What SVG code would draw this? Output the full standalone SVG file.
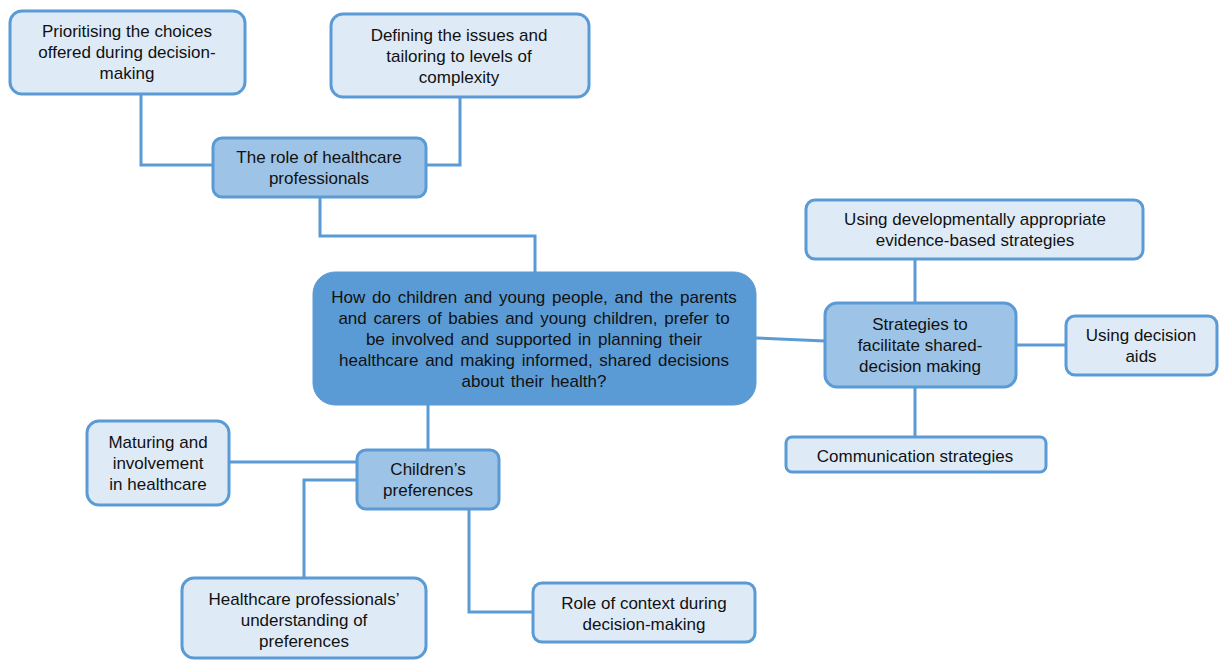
<svg xmlns="http://www.w3.org/2000/svg" width="1224" height="660" viewBox="0 0 1224 660">
<style>
.leaf{fill:#deebf7;stroke:#5b9bd5;stroke-width:3}
.mid{fill:#9dc3e6;stroke:#5b9bd5;stroke-width:3}
.main{fill:#5b9bd5;stroke:#5b9bd5;stroke-width:1}
.conn{fill:none;stroke:#5b9bd5;stroke-width:3}
text{font-family:"Liberation Sans",Arial,sans-serif;font-size:17px;fill:#111;text-anchor:middle}
</style>
<rect width="1224" height="660" fill="#fff"/>
<g id="connectors">
<polyline class="conn" points="141,94 141,165 213,165"/>
<polyline class="conn" points="460,97 460,165 426,165"/>
<polyline class="conn" points="320,197 320,236 535,236 535,272"/>
<polyline class="conn" points="756,338 825,341"/>
<polyline class="conn" points="915,259 915,303"/>
<polyline class="conn" points="1016,345 1066,345"/>
<polyline class="conn" points="915,387 915,437"/>
<polyline class="conn" points="428,405 428,450"/>
<polyline class="conn" points="229,462 357,462"/>
<polyline class="conn" points="357,480 304,480 304,578"/>
<polyline class="conn" points="469,509 469,612 533,612"/>
</g>
<g id="n-prioritising">
<rect class="leaf" x="10" y="11" width="235" height="83" rx="12"/>
<text x="127" y="37">Prioritising the choices</text>
<text x="127" y="58">offered during decision-</text>
<text x="127" y="79">making</text>
</g>
<g id="n-defining">
<rect class="leaf" x="331" y="14" width="258" height="83" rx="12"/>
<text x="459" y="41">Defining the issues and</text>
<text x="459" y="62">tailoring to levels of</text>
<text x="459" y="83">complexity</text>
</g>
<g id="n-role">
<rect class="mid" x="213" y="138" width="213" height="59" rx="9"/>
<text x="319" y="163">The role of healthcare</text>
<text x="319" y="184">professionals</text>
</g>
<g id="n-central">
<rect class="main" x="313" y="272" width="443" height="133" rx="22"/>
<text x="534" y="303" word-spacing="2">How do children and young people, and the parents</text>
<text x="534" y="324" word-spacing="2">and carers of babies and young children, prefer to</text>
<text x="534" y="345" word-spacing="2">be involved and supported in planning their</text>
<text x="534" y="366" word-spacing="2">healthcare and making informed, shared decisions</text>
<text x="534" y="387" word-spacing="2">about their health?</text>
</g>
<g id="n-strategies">
<rect class="mid" x="825" y="303" width="191" height="84" rx="12"/>
<text x="920" y="330">Strategies to</text>
<text x="920" y="351">facilitate shared-</text>
<text x="920" y="372">decision making</text>
</g>
<g id="n-developmental">
<rect class="leaf" x="806" y="200" width="337" height="59" rx="9"/>
<text x="975" y="225">Using developmentally appropriate</text>
<text x="975" y="246">evidence-based strategies</text>
</g>
<g id="n-aids">
<rect class="leaf" x="1066" y="316" width="151" height="59" rx="9"/>
<text x="1141" y="341">Using decision</text>
<text x="1141" y="362">aids</text>
</g>
<g id="n-communication">
<rect class="leaf" x="786" y="437" width="260" height="35" rx="6"/>
<text x="915" y="462">Communication strategies</text>
</g>
<g id="n-children">
<rect class="mid" x="357" y="450" width="142" height="59" rx="9"/>
<text x="428" y="475">Children’s</text>
<text x="428" y="496">preferences</text>
</g>
<g id="n-maturing">
<rect class="leaf" x="87" y="421" width="142" height="84" rx="12"/>
<text x="158" y="448">Maturing and</text>
<text x="158" y="469">involvement</text>
<text x="158" y="490">in healthcare</text>
</g>
<g id="n-hcp">
<rect class="leaf" x="182" y="578" width="244" height="80" rx="12"/>
<text x="304" y="605">Healthcare professionals’</text>
<text x="304" y="626">understanding of</text>
<text x="304" y="647">preferences</text>
</g>
<g id="n-context">
<rect class="leaf" x="533" y="583" width="222" height="59" rx="9"/>
<text x="644" y="609">Role of context during</text>
<text x="644" y="630">decision-making</text>
</g>
</svg>
